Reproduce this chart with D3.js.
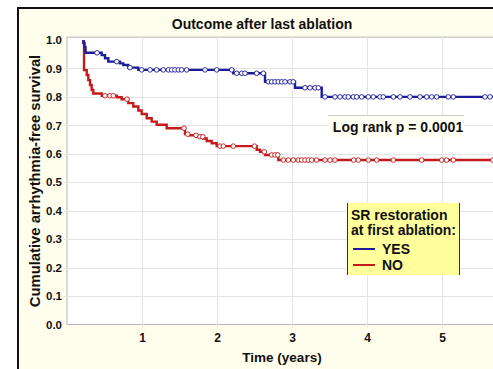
<!DOCTYPE html>
<html>
<head>
<meta charset="utf-8">
<script src="https://cdn.jsdelivr.net/npm/d3@7"></script>
<style>
  html, body { margin: 0; padding: 0; background: #fff; }
  svg { display: block; font-family: "Liberation Sans", Arial, sans-serif; font-weight: bold; }
</style>
</head>
<body>
<svg id="chart" width="493" height="369"></svg>
<script>
// Kaplan-Meier step events: [time in years, survival after the step]
const yesSteps = [
  [0.22, 0.99], [0.233, 0.975], [0.247, 0.955], [0.463, 0.947], [0.507, 0.936],
  [0.551, 0.924], [0.707, 0.918], [0.751, 0.912], [0.817, 0.903], [0.951, 0.895],
  [2.217, 0.883], [2.64, 0.853], [3.04, 0.832], [3.396, 0.80]
];
const noSteps = [
  [0.22, 0.99], [0.227, 0.894], [0.263, 0.877], [0.284, 0.859], [0.307, 0.842],
  [0.329, 0.824], [0.351, 0.812], [0.463, 0.804], [0.663, 0.799], [0.729, 0.792],
  [0.817, 0.778], [0.884, 0.766], [0.951, 0.752], [0.996, 0.740], [1.063, 0.725],
  [1.129, 0.713], [1.196, 0.702], [1.329, 0.690], [1.573, 0.669], [1.617, 0.665],
  [1.729, 0.660], [1.817, 0.654], [1.863, 0.645], [1.929, 0.637], [1.996, 0.627],
  [2.529, 0.614], [2.573, 0.607], [2.64, 0.596], [2.817, 0.578]
];
// Censored observations (years)
const yesCensored = [
  0.40, 0.663, 0.84, 0.996, 1.107, 1.196, 1.284, 1.351, 1.396, 1.44, 1.484, 1.529,
  1.596, 1.84, 1.996, 2.196, 2.263, 2.329, 2.373, 2.529, 2.617, 2.684, 2.729, 2.773,
  2.817, 2.863, 2.907, 2.973, 3.017, 3.173, 3.24, 3.307, 3.351, 3.44, 3.573, 3.64,
  3.707, 3.751, 3.817, 3.863, 3.929, 4.017, 4.084, 4.173, 4.217, 4.351, 4.44, 4.573,
  4.707, 4.796, 4.863, 4.929, 5.084, 5.151, 5.573, 5.64
];
const noCensored = [
  0.507, 0.573, 0.617, 0.80, 1.56, 1.61, 1.72, 1.773, 1.81, 2.04, 2.084, 2.217,
  2.50, 2.63, 2.729, 2.773, 2.81, 2.884, 2.951, 3.017, 3.084, 3.129, 3.173, 3.217,
  3.262, 3.329, 3.44, 3.507, 3.573, 3.822, 3.884, 4.017, 4.129, 4.351, 4.729, 4.996,
  5.062, 5.151, 5.68
];
const endTime = 5.75;
const xTicks = [1, 2, 3, 4, 5];
const yTicks = [0, 0.1, 0.2, 0.3, 0.4, 0.5, 0.6, 0.7, 0.8, 0.9, 1.0];
const groups = ["YES", "NO"];
const colors = { YES: "#1c1c9c", NO: "#c41a1a" };

const svg = d3.select("#chart");
const W = 493, H = 369;
const x = d3.scaleLinear().domain([0, endTime]).range([67, 67 + endTime * 75]);
const y = d3.scaleLinear().domain([0, 1]).range([324.5, 40]);

// figure frame
svg.append("rect").attr("x", 18).attr("y", 8).attr("width", 520).attr("height", 420)
  .attr("fill", "#fffeec").attr("stroke", "#111").attr("stroke-width", 2);

// title
svg.append("text").attr("x", 262).attr("y", 29).attr("text-anchor", "middle")
  .attr("font-size", 14).attr("fill", "#111").text("Outcome after last ablation");

// plot area
const plotTop = y(1.01);
svg.append("rect").attr("x", x(0)).attr("y", plotTop).attr("width", W - x(0) + 5)
  .attr("height", y(0) - plotTop).attr("fill", "#fff").attr("stroke", "#b8b8b8").attr("stroke-width", 1);

svg.append("clipPath").attr("id", "plotclip").append("rect")
  .attr("x", x(0)).attr("y", plotTop - 4).attr("width", W - x(0)).attr("height", y(0) - plotTop + 4);

// grid
const grid = svg.append("g").attr("stroke", "#e4e4e4").attr("stroke-width", 1);
grid.selectAll("line.h").data(yTicks.filter(d => d > 0 && d < 1)).join("line")
  .attr("x1", x(0) - 3).attr("x2", W).attr("y1", d => Math.round(y(d)) + 0.5).attr("y2", d => Math.round(y(d)) + 0.5);
grid.selectAll("line.v").data(xTicks).join("line")
  .attr("x1", d => Math.round(x(d)) + 0.5).attr("x2", d => Math.round(x(d)) + 0.5)
  .attr("y1", plotTop).attr("y2", y(0) + 3);

// axes labels via d3 axes
const yAxis = svg.append("g").attr("transform", `translate(${x(0)},0)`)
  .call(d3.axisLeft(y).tickValues(yTicks).tickFormat(d3.format(".1f")).tickSize(0).tickPadding(5));
yAxis.select(".domain").remove();
yAxis.selectAll("text").attr("font-size", 11.5).attr("font-family", "Liberation Sans, Arial, sans-serif")
  .attr("font-weight", "bold").attr("fill", "#111");

const xAxis = svg.append("g").attr("transform", `translate(0,${y(0)})`)
  .call(d3.axisBottom(x).tickValues(xTicks).tickFormat(d3.format("d")).tickSize(0).tickPadding(9));
xAxis.select(".domain").remove();
xAxis.selectAll("text").attr("font-size", 12).attr("font-family", "Liberation Sans, Arial, sans-serif")
  .attr("font-weight", "bold").attr("fill", "#111");

svg.append("text").attr("x", 282).attr("y", 362).attr("text-anchor", "middle")
  .attr("font-size", 13.5).attr("fill", "#111").text("Time (years)");
svg.append("text").attr("transform", "translate(39.5,181) rotate(-90)").attr("text-anchor", "middle")
  .attr("font-size", 14.8).attr("fill", "#111").text("Cumulative arrhythmia-free survival");

// survival curves
function survivalAt(steps, t) {
  let v = steps[0][1];
  for (const [st, sv] of steps) { if (st <= t) v = sv; }
  return v;
}
const series = {
  YES: { steps: yesSteps, censored: yesCensored },
  NO: { steps: noSteps, censored: noCensored }
};
const curves = svg.append("g").attr("clip-path", "url(#plotclip)");
const line = d3.line().x(d => x(d[0])).y(d => y(d[1])).curve(d3.curveStepAfter);
["NO", "YES"].forEach(g => {
  const s = series[g];
  const pts = [[s.steps[0][0], 1.0], ...s.steps, [endTime, s.steps[s.steps.length - 1][1]]];
  curves.append("path").datum(pts).attr("d", line).attr("fill", "none")
    .attr("stroke", colors[g]).attr("stroke-width", 2.4).attr("stroke-linejoin", "miter");
  curves.selectAll(null).data(s.censored).join("circle")
    .attr("cx", d => x(d)).attr("cy", d => y(survivalAt(s.steps, d)))
    .attr("r", 2.3).attr("fill", "#fff").attr("stroke", colors[g]).attr("stroke-width", 0.9);
});

// log-rank annotation
const lr = svg.append("g");
lr.append("rect").attr("x", 328).attr("y", 115).attr("width", 136).attr("height", 22)
  .attr("fill", "#fffff4");
lr.append("line").attr("x1", 328).attr("x2", 464).attr("y1", 115.5).attr("y2", 115.5).attr("stroke", "#ccc");
lr.append("text").attr("x", 398).attr("y", 131.5).attr("text-anchor", "middle")
  .attr("font-size", 14).attr("fill", "#111").text("Log rank p = 0.0001");

// legend
const lg = svg.append("g");
lg.append("rect").attr("x", 347).attr("y", 203).attr("width", 112).attr("height", 72).attr("fill", "#ffff9c");
lg.append("line").attr("x1", 347.5).attr("x2", 347.5).attr("y1", 203).attr("y2", 275).attr("stroke", "#333");
lg.append("line").attr("x1", 459.5).attr("x2", 459.5).attr("y1", 203).attr("y2", 275).attr("stroke", "#333");
lg.append("text").attr("x", 351).attr("y", 219.5).attr("font-size", 14).attr("fill", "#111").text("SR restoration");
lg.append("text").attr("x", 351).attr("y", 235).attr("font-size", 14).attr("fill", "#111").text("at first ablation:");
groups.forEach((g, i) => {
  const yy = 249 + i * 16;
  lg.append("line").attr("x1", 353).attr("x2", 375).attr("y1", yy).attr("y2", yy)
    .attr("stroke", colors[g]).attr("stroke-width", 2);
  lg.append("text").attr("x", 382).attr("y", yy + 5).attr("font-size", 14).attr("fill", "#111").text(g);
});
</script>
</body>
</html>
